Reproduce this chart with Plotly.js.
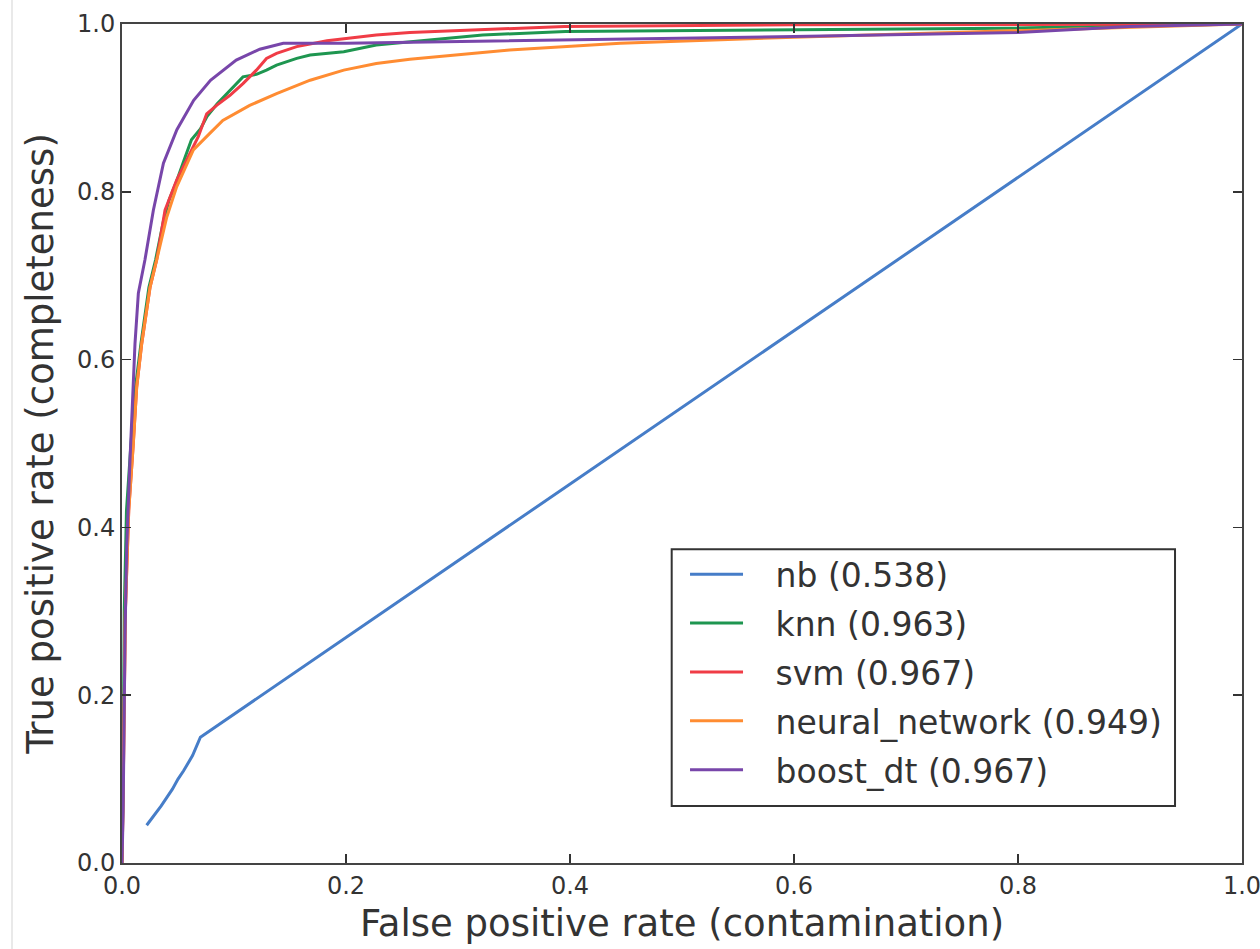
<!DOCTYPE html>
<html>
<head>
<meta charset="utf-8">
<script src="https://cdn.plot.ly/plotly-3.0.1.min.js"></script>
<style>html,body{margin:0;padding:0;background:#fff;}#chart{width:1260px;height:949px;}</style>
</head>
<body>
<div id="chart"></div>
<script>
// Series names and AUC values (legend labels)
const seriesNames = ["nb (0.538)", "knn (0.963)", "svm (0.967)", "neural_network (0.949)", "boost_dt (0.967)"];
const seriesColors = ["#467dc8", "#1e9650", "#f03c46", "#ff8c32", "#7846aa"];

// nb
const nbFpr = [0.022, 0.035, 0.045, 0.050, 0.055, 0.063, 0.070, 1.0];
const nbTpr = [0.045, 0.068, 0.088, 0.100, 0.110, 0.128, 0.150, 1.0];

// knn
const knnFpr = [0, 0.001, 0.002, 0.004, 0.008, 0.012, 0.017, 0.024, 0.030, 0.037, 0.042, 0.048, 0.056, 0.062, 0.070, 0.076, 0.085, 0.0964, 0.108, 0.120, 0.129, 0.138, 0.156, 0.168, 0.198, 0.227, 0.257, 0.322, 0.396, 0.593, 0.789, 1.0];
const knnTpr = [0, 0.10, 0.30, 0.42, 0.50, 0.567, 0.620, 0.686, 0.719, 0.765, 0.790, 0.810, 0.840, 0.862, 0.875, 0.890, 0.905, 0.921, 0.937, 0.940, 0.945, 0.951, 0.959, 0.963, 0.967, 0.975, 0.979, 0.987, 0.991, 0.993, 0.995, 1.0];

// svm
const svmFpr = [0, 0.001, 0.003, 0.006, 0.0101, 0.0131, 0.0176, 0.025, 0.031, 0.0384, 0.0488, 0.0607, 0.0682, 0.0756, 0.0845, 0.0964, 0.108, 0.120, 0.129, 0.138, 0.156, 0.183, 0.227, 0.257, 0.30, 0.395, 0.60, 1.0];
const svmTpr = [0, 0.08, 0.30, 0.42, 0.50, 0.567, 0.619, 0.686, 0.719, 0.778, 0.814, 0.846, 0.866, 0.893, 0.903, 0.915, 0.929, 0.945, 0.959, 0.965, 0.973, 0.980, 0.987, 0.990, 0.992, 0.997, 0.999, 1.0];

// neural_network
const nnFpr = [0, 0.001, 0.003, 0.006, 0.0101, 0.0131, 0.0176, 0.025, 0.031, 0.040, 0.0488, 0.0637, 0.0786, 0.090, 0.114, 0.138, 0.168, 0.198, 0.227, 0.257, 0.346, 0.445, 0.593, 0.789, 1.0];
const nnTpr = [0, 0.08, 0.30, 0.42, 0.50, 0.567, 0.619, 0.686, 0.719, 0.770, 0.806, 0.850, 0.870, 0.885, 0.903, 0.917, 0.933, 0.945, 0.953, 0.958, 0.969, 0.977, 0.984, 0.992, 1.0];

// boost_dt
const bdtFpr = [0, 0.001, 0.0027, 0.0042, 0.0071, 0.0101, 0.0116, 0.0146, 0.0205, 0.028, 0.037, 0.049, 0.064, 0.079, 0.102, 0.123, 0.144, 0.20, 0.25, 0.40, 0.60, 0.80, 0.90, 1.0];
const bdtTpr = [0, 0.06, 0.27, 0.376, 0.479, 0.573, 0.619, 0.679, 0.719, 0.778, 0.834, 0.874, 0.909, 0.933, 0.957, 0.970, 0.977, 0.977, 0.978, 0.981, 0.985, 0.990, 0.997, 1.0];

const tickVals = [0.0, 0.2, 0.4, 0.6, 0.8, 1.0];
const tickText = ["0.0", "0.2", "0.4", "0.6", "0.8", "1.0"];

const xs = [nbFpr, knnFpr, svmFpr, nnFpr, bdtFpr];
const ys = [nbTpr, knnTpr, svmTpr, nnTpr, bdtTpr];

const FONT = "DejaVu Sans, Bitstream Vera Sans, sans-serif";
const PAD = "\u00a0\u00a0\u2009";

const traces = seriesNames.map((name, i) => ({
  type: "scatter",
  mode: "lines",
  name: PAD + name,
  x: xs[i],
  y: ys[i],
  line: {color: seriesColors[i], width: 3},
  legendgroup: "g" + i
}));

const axisCommon = {
  range: [0, 1],
  tickvals: tickVals,
  ticktext: tickText,
  ticks: "inside",
  ticklen: 9,
  tickwidth: 1.5,
  tickcolor: "#333",
  showline: true,
  linecolor: "#444",
  linewidth: 2,
  mirror: "allticks",
  showgrid: false,
  zeroline: false,
  ticklabeloverflow: "allow",
  tickfont: {family: FONT, size: 24, color: "#333"},
  fixedrange: true
};

const layout = {
  width: 1260,
  height: 949,
  margin: {l: 122, r: 18, t: 24, b: 86},
  paper_bgcolor: "#fff",
  plot_bgcolor: "#fff",
  font: {family: FONT, color: "#333"},
  xaxis: Object.assign({}, axisCommon, {
    title: {text: "False positive rate (contamination)", font: {family: FONT, size: 37, color: "#333"}, standoff: 11}
  }),
  yaxis: Object.assign({}, axisCommon, {
    title: {text: "True positive rate (completeness)", font: {family: FONT, size: 37, color: "#333"}, standoff: 12}
  }),
  legend: {
    x: 0.5027, y: 0.3776, xanchor: "left", yanchor: "top",
    bgcolor: "rgba(0,0,0,0)",
    borderwidth: 0,
    font: {family: FONT, size: 33, color: "#333"},
    tracegroupgap: 3,
    itemwidth: 53,
    traceorder: "grouped"
  },
  shapes: [
    {type: "line", xref: "paper", yref: "paper", x0: -0.0982, x1: -0.0982, y0: -0.11, y1: 1.03, line: {color: "#e2e2e2", width: 1.5}},
    {type: "rect", xref: "paper", yref: "paper", x0: 0.4908, x1: 0.9402, y0: 0.0679, y1: 0.3739, fillcolor: "#fff", line: {color: "#333", width: 2}, layer: "above"}
  ],
  showlegend: true
};

Plotly.newPlot("chart", traces, layout, {displayModeBar: false, staticPlot: true});
</script>
</body>
</html>
